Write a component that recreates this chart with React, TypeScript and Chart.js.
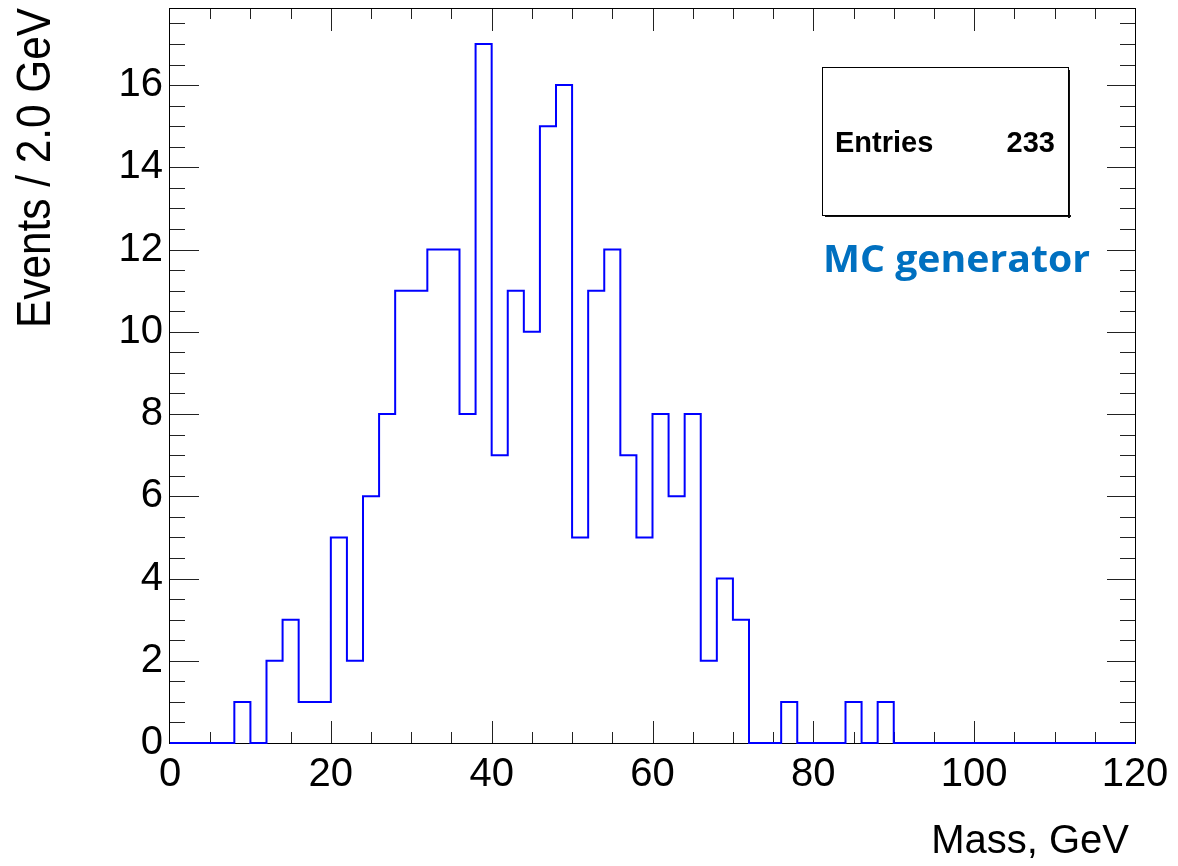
import React, { useEffect, useRef } from 'react';
import { Chart, registerables } from 'chart.js';

Chart.register(...registerables);

// ---- data ----
const binLow = 0;
const binWidth = 2;
const counts = [
  0, 0, 0, 0, 1, 0, 2, 3, 1, 1,
  5, 2, 6, 8, 11, 11, 12, 12, 8, 17,
  7, 11, 10, 15, 16, 5, 11, 12, 7, 5,
  8, 6, 8, 2, 4, 3, 0, 0, 1, 0,
  0, 0, 1, 0, 1, 0, 0, 0, 0, 0,
  0, 0, 0, 0, 0, 0, 0, 0, 0, 0,
];
const xTickLabels = [0, 20, 40, 60, 80, 100, 120];
const yTickLabels = [0, 2, 4, 6, 8, 10, 12, 14, 16];
const xRange = [0, 120];
const yRange = [0, 17.85];
const xMinorStep = 5;
const yMinorStep = 0.5;
const entriesLabel = 'Entries';
const entriesValue = String(counts.reduce((s, c) => s + c, 0));
const xTitle = 'Mass, GeV';
const yTitle = 'Events / 2.0 GeV';
const noteText = 'MC generator';

const FONT = '"Liberation Sans", Arial, Helvetica, sans-serif';

const decorPlugin = {
  id: 'rootDecor',
  beforeDatasetsDraw(chart: any) {
    const { ctx, chartArea: a, scales } = chart;
    const xs = scales.x;
    const ys = scales.y;
    ctx.save();
    ctx.strokeStyle = '#000';
    ctx.lineWidth = 1;
    ctx.strokeRect(a.left - 0.5, a.top - 0.5, a.right - a.left + 1, a.bottom - a.top + 1);
    ctx.strokeStyle = '#222';
    ctx.beginPath();
    for (let v = xRange[0] + xMinorStep; v < xRange[1]; v += xMinorStep) {
      const px = Math.round(xs.getPixelForValue(v)) + 0.5;
      const major = v % 20 === 0;
      const lb = major ? 22 : 11;
      const lt = major ? 22 : 10;
      ctx.moveTo(px, a.bottom);
      ctx.lineTo(px, a.bottom - lb);
      ctx.moveTo(px, a.top);
      ctx.lineTo(px, a.top + lt);
    }
    for (let v = yRange[0] + yMinorStep; v < yRange[1]; v += yMinorStep) {
      const py = Math.round(ys.getPixelForValue(v)) + 0.5;
      const major = v % 2 === 0;
      ctx.moveTo(a.left, py);
      ctx.lineTo(a.left + (major ? 29 : 15), py);
      ctx.moveTo(a.right, py);
      ctx.lineTo(a.right - (major ? 28 : 15), py);
    }
    ctx.stroke();
    ctx.restore();
  },
  afterDraw(chart: any) {
    const { ctx, chartArea: a } = chart;
    ctx.save();
    // x title
    ctx.fillStyle = '#000';
    ctx.font = `40px ${FONT}`;
    ctx.textAlign = 'right';
    ctx.textBaseline = 'alphabetic';
    ctx.fillText(xTitle, a.right - 6, 853);

    // y title (condensed)
    ctx.save();
    ctx.translate(50, 8);
    ctx.rotate(-Math.PI / 2);
    ctx.font = `48px ${FONT}`;
    const w = ctx.measureText(yTitle).width;
    ctx.scale(320 / w, 1);
    ctx.textAlign = 'right';
    ctx.fillText(yTitle, 0, 0);
    ctx.restore();

    // stats box
    const bx = 822, by = 67, bw = 246, bh = 148;
    ctx.fillStyle = '#fff';
    ctx.fillRect(bx, by, bw, bh);
    ctx.fillStyle = '#111';
    ctx.fillRect(bx + 3, by + bh, bw, 2);
    ctx.fillRect(bx + bw, by + 3, 2, bh);
    ctx.strokeStyle = '#000';
    ctx.lineWidth = 1;
    ctx.strokeRect(bx + 0.5, by + 0.5, bw, bh);
    ctx.fillStyle = '#000';
    ctx.font = `bold 29px ${FONT}`;
    ctx.textAlign = 'left';
    ctx.fillText(entriesLabel, 835, 152);
    ctx.textAlign = 'right';
    ctx.fillText(entriesValue, 1055, 152);

    // note
    ctx.font = `bold 38px "Open Sans", Lato, sans-serif`;
    const nw = ctx.measureText(noteText).width;
    ctx.save();
    ctx.translate(823, 272);
    ctx.scale(267 / nw, 1);
    ctx.fillStyle = '#0070C0';
    ctx.textAlign = 'left';
    ctx.fillText(noteText, 0, 0);
    ctx.restore();
    ctx.restore();
  },
};

export default function App() {
  const ref = useRef<HTMLCanvasElement | null>(null);
  useEffect(() => {
    if (!ref.current) return;
    const pts = counts.map((c, i) => ({ x: binLow + i * binWidth, y: c }));
    pts.push({ x: binLow + counts.length * binWidth, y: counts[counts.length - 1] });
    const chart = new Chart(ref.current, {
      type: 'line',
      data: {
        datasets: [
          {
            data: pts,
            stepped: 'before',
            borderColor: '#0000ff',
            borderWidth: 2,
            pointRadius: 0,
            fill: false,
            tension: 0,
            clip: 6,
          } as any,
        ],
      },
      options: {
        animation: false,
        responsive: false,
        events: [],
        layout: { padding: { top: 9, right: 43, left: 0, bottom: 0 } },
        plugins: { legend: { display: false }, tooltip: { enabled: false } },
        scales: {
          x: {
            type: 'linear',
            min: xRange[0],
            max: xRange[1],
            afterBuildTicks: (s: any) => {
              s.ticks = xTickLabels.map((v) => ({ value: v }));
            },
            afterFit: (s: any) => {
              s.height = 123;
              s.paddingLeft = 0;
              s.paddingRight = 0;
            },
            grid: { display: false, drawTicks: false },
            border: { display: false },
            ticks: {
              font: { family: FONT, size: 40 },
              color: '#000',
              padding: 8,
              maxRotation: 0,
              autoSkip: false,
            },
          },
          y: {
            type: 'linear',
            min: yRange[0],
            max: yRange[1],
            afterBuildTicks: (s: any) => {
              s.ticks = yTickLabels.map((v) => ({ value: v }));
            },
            afterFit: (s: any) => {
              s.width = 170;
              s.paddingTop = 0;
              s.paddingBottom = 0;
            },
            grid: { display: false, drawTicks: false },
            border: { display: false },
            ticks: {
              font: { family: FONT, size: 40 },
              color: '#000',
              padding: 7,
              autoSkip: false,
            },
          },
        },
      },
      plugins: [decorPlugin],
    });
    return () => chart.destroy();
  }, []);
  return (
    <div style={{ position: 'fixed', left: 0, top: 0, width: 1178, height: 866, background: '#fff' }}>
      <canvas ref={ref} width={1178} height={866} style={{ width: 1178, height: 866, display: 'block' }} />
    </div>
  );
}
